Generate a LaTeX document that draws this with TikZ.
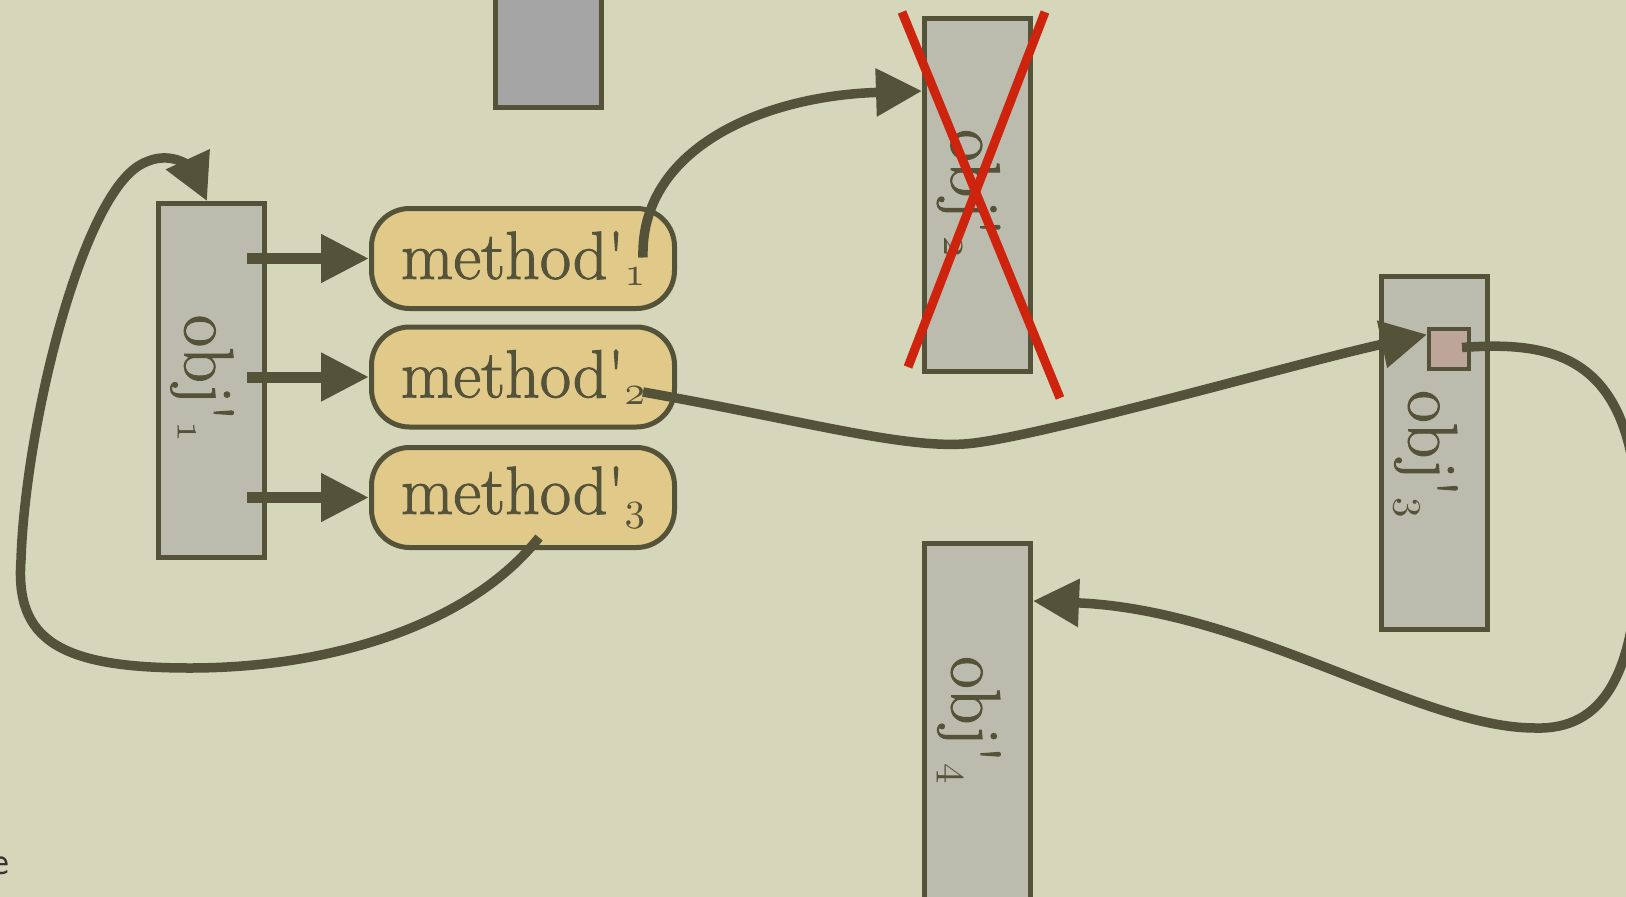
\documentclass[tikz,border=0pt]{standalone}
\usepackage{fontspec}
\newfontfamily\lbl{Latin Modern Roman}[FakeBold=1.4]
\usetikzlibrary{arrows.meta,calc}
\definecolor{ol}{RGB}{84,82,56}
\definecolor{bg}{RGB}{214,215,186}
\definecolor{objgray}{RGB}{187,188,174}
\definecolor{topgray}{RGB}{165,165,165}
\definecolor{methfill}{RGB}{224,201,137}
\definecolor{xred}{RGB}{206,36,14}
\definecolor{pinkfill}{RGB}{190,165,153}
\newcommand\osn[1]{{\fontsize{10}{10}\usefont{OML}{cmm}{m}{it}#1}}
\newcommand\subn[1]{\raisebox{-0.1em}{\scalebox{4.1}{\osn{#1}}}}
\newcommand\prm{\textquotesingle}
\begin{document}
\begin{tikzpicture}[x=1pt,y=-1pt,
  objbox/.style={draw=ol, line width=5pt, fill=objgray, minimum width=106pt, inner sep=0pt},
  methbox/.style={draw=ol, line width=5pt, fill=methfill, rounded corners=38pt, minimum width=303pt, minimum height=100pt, inner sep=0pt, font=\lbl\fontsize{68}{80}\selectfont, text=ol},
  objlabel/.style={rotate=-90, font=\lbl\fontsize{70}{82}\selectfont, text=ol, inner sep=0pt},
  conn/.style={draw=ol, line width=9.5pt, -{Triangle[length=46pt,width=46pt]}},
  side/.style={draw=ol, line width=11pt, -{Triangle[length=48pt,width=46pt]}},
  cross/.style={draw=xred, line width=9pt},
]
\useasboundingbox (0,0) rectangle (1626,897);
\fill[bg] (0,0) rectangle (1626,897);
\clip (0,0) rectangle (1626,897);

% boxes
\node[objbox, fill=topgray, minimum height=200pt] (top) at (548.5,7.5) {};
\node[objbox, minimum height=354pt] (obj1) at (211,380.5) {};
\node[objbox, minimum height=353pt] (obj2) at (977.5,195) {};
\node[objbox, minimum height=353pt] (obj3) at (1434.5,453) {};
\node[objbox, minimum height=395pt] (obj4) at (977.5,741) {};

\node[objlabel] (l1) at ($(obj1.center)+(-9,-2)$) {obj\prm\subn{1}};
\node[objlabel] (l2) at ($(obj2.center)+(-9,-2)$) {obj\prm\subn{2}};
\node[objlabel] (l3) at ($(obj3.center)+(-9,1)$) {obj\prm\subn{3}};
\node[objlabel] (l4) at ($(obj4.north)+(-9,179)$) {obj\prm\subn{4}};

\node[draw=ol, line width=4pt, fill=pinkfill, minimum size=40pt, inner sep=0pt] (sq) at (1449,348.5) {};

\node[methbox] (m1) at (523,258.5) {method\prm\subn{1}};
\node[methbox] (m2) at (523,377) {method\prm\subn{2}};
\node[methbox] (m3) at (523,497.5) {method\prm\subn{3}};

\node[font=\sffamily\fontsize{40}{42}\selectfont, text=black!80, inner sep=0pt] (e) at (1,866) {e};

% connectors
\draw[side] ($(m1.west -| obj1.east)+(-20,0)$) -- (m1.west);
\draw[side] ($(m2.west -| obj1.east)+(-20,0)$) -- (m2.west);
\draw[side] ($(m3.west -| obj1.east)+(-20,0)$) -- (m3.west);

\draw[conn] ($(m1.center)+(120,-1)$) .. controls (640,150) and (760,96) .. ($(obj2.north west)+(0,75)$);

\draw[conn] ($(m2.center)+(120,15)$) .. controls (800,420) and (900,448) .. (964,444)
  .. controls (1030,440) and (1300,362) .. ($(sq.west)+(0,-14)$);

\draw[conn] ($(sq.center)+(13,-1)$) .. controls (1560,340) and (1634,360) .. (1638,520)
  .. controls (1642,680) and (1600,730) .. (1535,728)
  .. controls (1420,728) and (1250,610) .. ($(obj4.north east)+(0,60)$);

\draw[conn] ($(m3.center)+(16,40)$) .. controls (470,625) and (330,668) .. (190,668)
  .. controls (60,668) and (15,640) .. (21,560)
  .. controls (25,430) and (80,200) .. (140,165)
  .. controls (175,145) and (195,175) .. ($(obj1.north)+(-4,0)$);

% red cross
\draw[cross] (902,12) -- (1060,398);
\draw[cross] (1045,12) -- (908,367);
\end{tikzpicture}
\end{document}
